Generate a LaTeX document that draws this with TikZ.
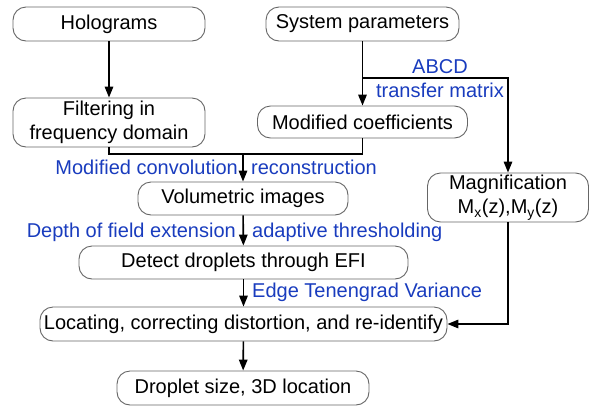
\documentclass[tikz,border=0pt]{standalone}
\usepackage{fontspec}
\setmainfont{Liberation Sans}
\usetikzlibrary{arrows.meta}
\definecolor{lblblue}{RGB}{25,60,190}
\begin{document}
\begin{tikzpicture}[x=1pt,y=-1pt,
  box/.style={draw=black!60,line width=0.9pt,rounded corners=13pt,align=center,inner sep=0pt,
    font=\fontsize{20}{24.5}\selectfont,text=black},
  conn/.style={line width=1.6pt,black},
  arr/.style={conn,-{Triangle[length=11pt,width=8.5pt]}},
  lbl/.style={text=lblblue,font=\fontsize{20}{24}\selectfont,inner sep=0pt}]
\useasboundingbox (0,0) rectangle (592,408);
\node[box,minimum width=192pt,minimum height=34pt] (hol) at (109,24) {Holograms};
\node[box,minimum width=193pt,minimum height=34pt] (sys) at (362.5,24) {System parameters};
\node[box,minimum width=192pt,minimum height=49pt] (filt) at (109,122.5) {Filtering in\\frequency domain};
\node[box,minimum width=210pt,minimum height=32pt] (modc) at (362.5,122) {Modified coefficients};
\node[box,minimum width=210pt,minimum height=33pt] (vol) at (243,198.5) {Volumetric images};
\node[box,minimum width=161pt,minimum height=49pt] (mag) at (508,197.5) {Magnification\\M\textsubscript{x}(z),M\textsubscript{y}(z)};
\node[box,minimum width=329pt,minimum height=33pt] (det) at (243.5,262.5) {Detect droplets through EFI};
\node[box,minimum width=407pt,minimum height=34pt] (loc) at (243.5,324) {Locating, correcting distortion, and re-identify};
\node[box,minimum width=252pt,minimum height=34pt] (drop) at (243,388) {Droplet size, 3D location};

\coordinate (br) at (362.5,78);
\coordinate (jn) at (243,154);

\draw[arr] (hol) -- (filt);
\draw[arr] (sys) -- (modc);
\draw[arr] (br) -| (mag.north);
\draw[conn] (filt.south) |- (jn) -| (modc.south);
\draw[arr] (jn) -- (vol.north);
\draw[arr] (vol) -- (det);
\draw[arr] (det) -- (loc);
\draw[arr] (loc) -- (drop);
\draw[arr] (mag.south) |- (loc.east);

\node[lbl] (l1) at (440,67) {ABCD};
\node[lbl] (l2) at (440,90) {transfer matrix};
\node[lbl,anchor=east] (l3) at (238,167) {Modified convolution};
\node[lbl,anchor=west] (l4) at (251,167) {reconstruction};
\node[lbl,anchor=east] (l5) at (236,232) {Depth of field extension};
\node[lbl,anchor=west] (l6) at (252,232) {adaptive thresholding};
\node[lbl,anchor=west] (l7) at (252,292) {Edge Tenengrad Variance};
\end{tikzpicture}
\end{document}
